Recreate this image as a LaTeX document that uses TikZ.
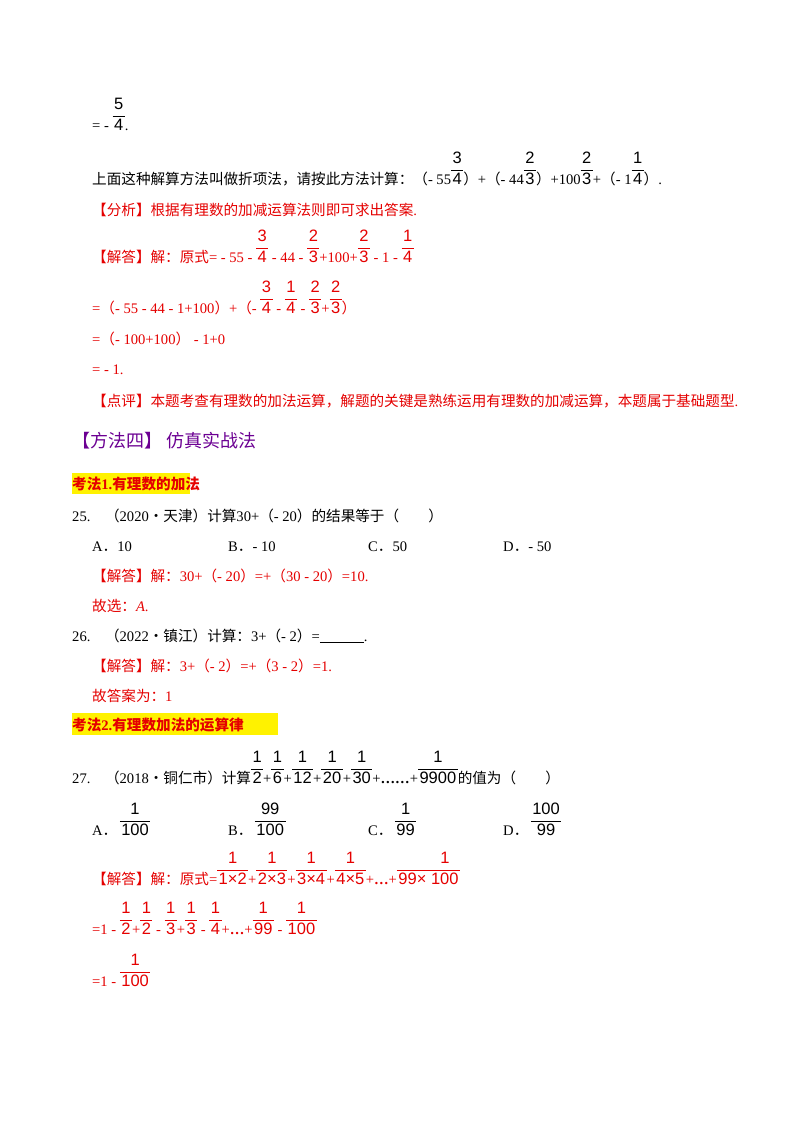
\documentclass[tikz,border=0pt]{standalone}
\usepackage{fontspec}
\setmainfont{Liberation Serif}
\newfontfamily\cjk{Noto Sans CJK SC}
\newfontfamily\ar{Liberation Sans}
\newcommand\fr[2]{{\ar\fontsize{16.5}{19}\selectfont\renewcommand\arraystretch{1.05}\setlength\tabcolsep{1.5pt}\begin{tabular}[b]{c}#1\\\hline #2\end{tabular}}}
\newcommand\zh[1]{{\cjk #1}}
\begin{document}
\begin{tikzpicture}[x=1pt,y=-1pt,
  t/.style={anchor=base west,inner sep=0pt,font=\fontsize{14.6}{17}\selectfont},
  r/.style={t,text=red!90!black}]
\useasboundingbox[fill=white] (0,0) rectangle (800,1132);
\node[t] (l1) at (92,130) {= - \fr{5}{4}.};
\node[t] (l2) at (92,184) {\zh{上面这种解算方法叫做折项法，请按此方法计算：（}- 55\fr{3}{4}\zh{）}+\zh{（}- 44\fr{2}{3}\zh{）}+100\fr{2}{3}+\zh{（}- 1\fr{1}{4}\zh{）}.};
\node[r] (l3) at (92,215) {\zh{【分析】根据有理数的加减运算法则即可求出答案}.};
\node[r] (l4) at (92,262) {\zh{【解答】解：原式}= - 55 - \fr{3}{4} - 44 - \fr{2}{3}+100+\fr{2}{3} - 1 - \fr{1}{4}};
\node[r] (l5) at (92,313) {=\zh{（}- 55 - 44 - 1+100\zh{）}+\zh{（}- \fr{3}{4} - \fr{1}{4} - \fr{2}{3}+\fr{2}{3}\zh{）}};
\node[r] (l6) at (92,344) {=\zh{（}- 100+100\zh{）} - 1+0};
\node[r] (l7) at (92,374) {= - 1.};
\node[r] (l8) at (92,406) {\zh{【点评】本题考查有理数的加法运算，解题的关键是熟练运用有理数的加减运算，本题属于基础题型}.};
\node[t,text=violet!85!blue,font=\fontsize{18}{21}\selectfont] (h4) at (72,447) {\zh{【方法四】 仿真实战法}};
\fill[yellow] (72,473) rectangle (190,494);
\node[t,text=red!90!black,font=\fontsize{14.6}{17}\selectfont\bfseries] (k1) at (72,489) {\zh{考法}1.\zh{有理数的加法}};
\node[t] (q25) at (72,521) {25.\quad\zh{（}2020\zh{•天津）计算}30+\zh{（}- 20\zh{）的结果等于（\qquad ）}};
\node[t] (a25) at (92,551) {A\zh{．}10};
\node[t] (b25) at (228,551) {B\zh{．}- 10};
\node[t] (c25) at (368,551) {C\zh{．}50};
\node[t] (d25) at (503,551) {D\zh{．}- 50};
\node[r] (s25) at (92,581) {\zh{【解答】解：}30+\zh{（}- 20\zh{）}=+\zh{（}30 - 20\zh{）}=10.};
\node[r] (g25) at (92,611) {\zh{故选：}\textit{A}.};
\node[t] (q26) at (72,641) {26.\quad\zh{（}2022\zh{•镇江）计算：}3+\zh{（}- 2\zh{）}=\rule[-1.5pt]{44pt}{0.6pt}.};
\node[r] (s26) at (92,671) {\zh{【解答】解：}3+\zh{（}- 2\zh{）}=+\zh{（}3 - 2\zh{）}=1.};
\node[r] (g26) at (92,701) {\zh{故答案为：}1};
\fill[yellow] (72,713) rectangle (278,735);
\node[t,text=red!90!black,font=\fontsize{14.6}{17}\selectfont\bfseries] (k2) at (72,730) {\zh{考法}2.\zh{有理数加法的运算律}};
\node[t] (q27) at (72,783) {27.\quad\zh{（}2018\zh{•铜仁市）计算}\fr{1}{2}+\fr{1}{6}+\fr{1}{12}+\fr{1}{20}+\fr{1}{30}+\textbf{……}+\fr{1}{9900}\zh{的值为（\qquad ）}};
\node[t] (a27) at (92,835) {A\zh{．}\,\fr{\,1\,}{100}};
\node[t] (b27) at (228,835) {B\zh{．}\,\fr{99}{100}};
\node[t] (c27) at (368,835) {C\zh{．}\,\fr{\,1\,}{99}};
\node[t] (d27) at (503,835) {D\zh{．}\,\fr{100}{99}};
\node[r] (s27) at (92,884) {\zh{【解答】解：原式}=\fr{\,1\,}{1×2}+\fr{\,1\,}{2×3}+\fr{\,1\,}{3×4}+\fr{\,1\,}{4×5}+\textbf{…}+\fr{\qquad 1\qquad}{99× 100}};
\node[r] (e1) at (92,934) {=1 - \fr{1}{2}+\fr{1}{2} - \fr{1}{3}+\fr{1}{3} - \fr{1}{4}+\textbf{…}+\fr{1}{99} - \fr{1}{100}};
\node[r] (e2) at (92,986) {=1 - \fr{1}{100}};
\end{tikzpicture}
\end{document}
